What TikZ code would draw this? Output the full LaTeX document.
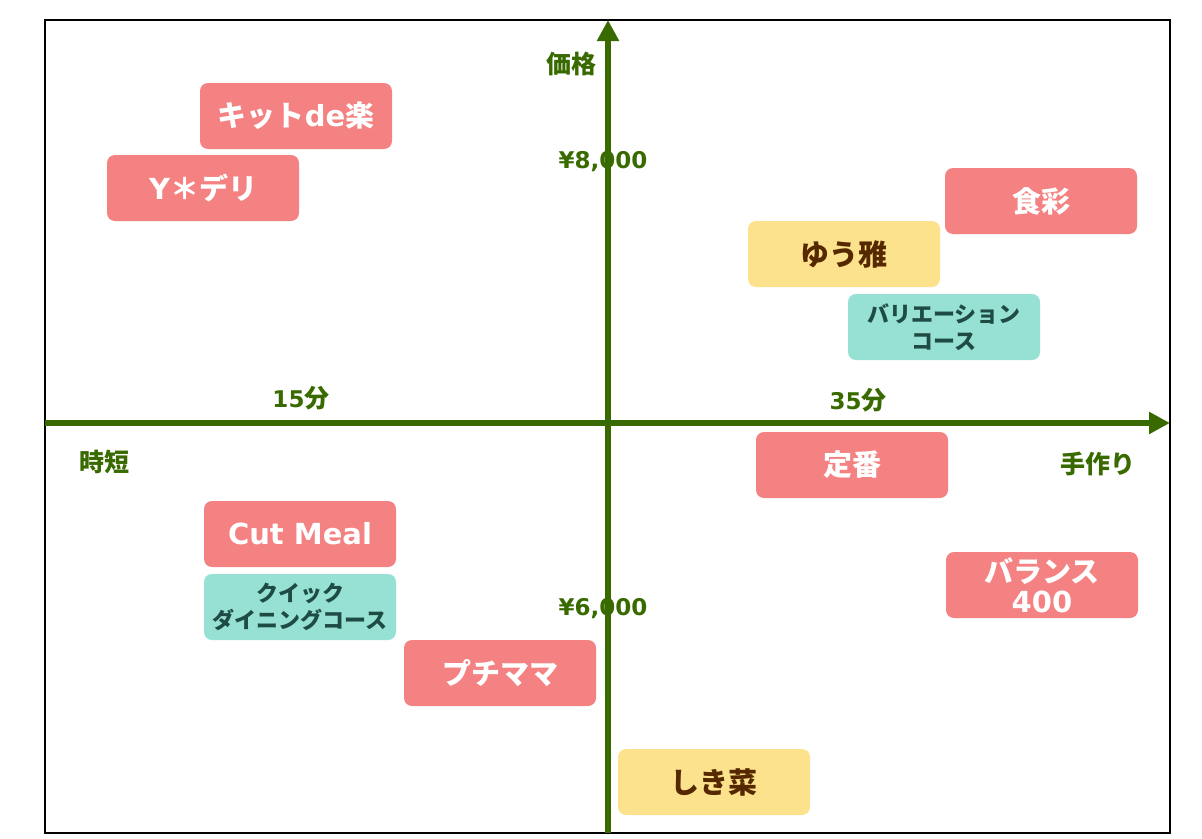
\documentclass[tikz,border=0pt]{standalone}
\usepackage{fontspec}
\setmainfont{Noto Sans CJK JP}
\newfontfamily\latfont{DejaVu Sans}
\usetikzlibrary{arrows.meta}
\definecolor{axisgreen}{HTML}{386A00}
\definecolor{boxpink}{HTML}{F48282}
\definecolor{boxyellow}{HTML}{FCE28C}
\definecolor{boxteal}{HTML}{96E1D4}
\definecolor{tealtext}{HTML}{1E4B44}
\definecolor{browntext}{HTML}{552800}
\tikzset{
  shopbox/.style={rounded corners=8pt, minimum width=192pt, minimum height=66pt,
    inner sep=0pt, align=center, font=\fontsize{29}{30}\selectfont\bfseries},
  pinkbox/.style={shopbox, fill=boxpink, text=white},
  yellowbox/.style={shopbox, fill=boxyellow, text=browntext},
  tealbox/.style={shopbox, fill=boxteal, text=tealtext,
    font=\fontsize{22}{27}\selectfont\bfseries},
  axislabel/.style={text=axisgreen, font=\fontsize{25}{27}\selectfont\bfseries}
}
\begin{document}
\begin{tikzpicture}[x=1pt,y=-1pt]
\useasboundingbox (0,0) rectangle (1202,838);
\draw[line width=2pt] (45,20) rectangle (1170,833);
% axes
\coordinate (xl) at (45,423);
\coordinate (xr) at (1170,423);
\coordinate (yb) at (608,833);
\coordinate (yt) at (608,20);
\draw[axisgreen, line width=6pt, -{Triangle[length=21pt,width=21pt]}] (xl) -- (xr);
\draw[axisgreen, line width=6pt, -{Triangle[length=21pt,width=21pt]}] (yb) -- (yt);
% axis labels
\node[axislabel] (price) at (571,64) {価格};
\node[axislabel] (p8000) at (603,162) {\latfont\fontsize{23}{27}\selectfont ¥8,000};
\node[axislabel] (p6000) at (603,609) {\latfont\fontsize{23}{27}\selectfont ¥6,000};
\node[axislabel] (m15) at (301,398) {{\latfont\fontsize{23}{27}\selectfont 15}分};
\node[axislabel] (m35) at (858,400) {{\latfont\fontsize{23}{27}\selectfont 35}分};
\node[axislabel] (short) at (104,462) {時短};
\node[axislabel] (hand) at (1098,464) {手作り};
% boxes
\node[pinkbox] (kit) at (296,116) {キット{\latfont de}楽};
\node[pinkbox] (ydeli) at (203,188) {{\latfont Y}＊デリ};
\node[pinkbox] (shokusai) at (1041,201) {食彩};
\node[yellowbox] (yuga) at (844,254) {ゆう雅};
\node[tealbox] (variation) at (944,327) {バリエーション\\コース};
\node[pinkbox] (teiban) at (852,465) {定番};
\node[pinkbox] (cutmeal) at (300,534) {\latfont Cut Meal};
\node[tealbox] (quick) at (300,607) {クイック\\ダイニングコース};
\node[pinkbox] (balance) at (1042,585) {バランス\\{\latfont 400}};
\node[pinkbox] (petit) at (500,673) {プチママ};
\node[yellowbox] (shikisai) at (714,782) {しき菜};
\end{tikzpicture}
\end{document}
